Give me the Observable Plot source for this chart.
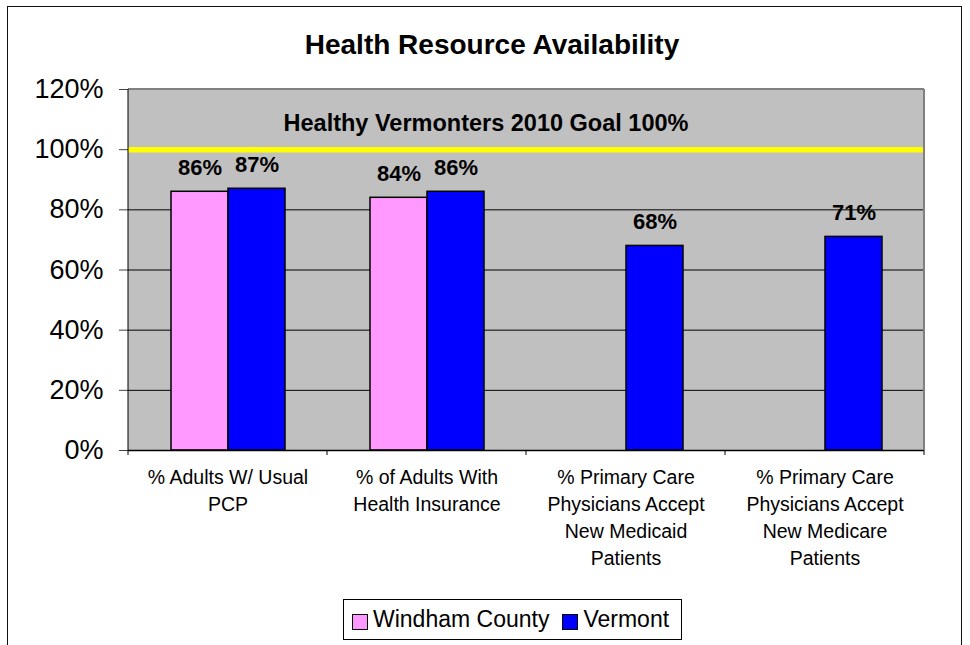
<!DOCTYPE html>
<html>
<head>
<meta charset="utf-8">
<script src="https://cdn.jsdelivr.net/npm/d3@7"></script>
<script src="https://cdn.jsdelivr.net/npm/@observablehq/plot@0.6"></script>
<style>
  body { margin: 0; background: #fff; font-family: "Liberation Sans", Arial, sans-serif; }
  #wrap { position: relative; width: 970px; height: 645px; overflow: hidden; background: #fff; }
  #wrap svg { position: absolute; left: 0; top: 0; }
  .frame { position: absolute; left: 7px; top: 6px; width: 953px; height: 700px; border: 1.5px solid #111; pointer-events: none; }
  .title { position: absolute; left: 492px; top: 31px; transform: translateX(-50%); white-space: nowrap;
           font-size: 28px; line-height: 28px; font-weight: bold; color: #000; }
  .goal { position: absolute; left: 486px; top: 112px; transform: translateX(-50%); white-space: nowrap;
          font-size: 23.5px; line-height: 23.5px; font-weight: bold; color: #000; }
  .legend { position: absolute; left: 343px; top: 599px; width: 337px; height: 39px; border: 1px solid #000;
            display: flex; align-items: center; box-sizing: content-box; font-size: 23px; color: #000; background: #fff; }
  .legend .item { display: flex; align-items: center; }
  .legend .sw { width: 14px; height: 14px; border: 1px solid #000; margin-right: 5px; margin-top: 4px; }
</style>
</head>
<body>
<div id="wrap"></div>
<script>
// ---- data ----
const categories = [
  "% Adults W/ Usual PCP",
  "% of Adults With Health Insurance",
  "% Primary Care Physicians Accept New Medicaid Patients",
  "% Primary Care Physicians Accept New Medicare Patients"
];
const tickLabels = [
  "% Adults W/ Usual\nPCP",
  "% of Adults With\nHealth Insurance",
  "% Primary Care\nPhysicians Accept\nNew Medicaid\nPatients",
  "% Primary Care\nPhysicians Accept\nNew Medicare\nPatients"
];
const series = ["Windham County", "Vermont"];
const windham = [86, 84, null, null];
const vermont = [87, 86, 68, 71];
const goalValue = [100];
const goalLabel = "Healthy Vermonters 2010 Goal 100%";
const yTicks = [0, 20, 40, 60, 80, 100, 120];
const gridTicks = [20, 40, 60, 80, 100];
const title = "Health Resource Availability";

const colors = ["#FF99FF", "#0000FF"];

// table built from the arrays
const rows = [];
categories.forEach((c, i) => {
  [windham, vermont].forEach((arr, s) => {
    if (arr[i] != null) rows.push({category: c, series: series[s], value: arr[i]});
  });
});
const labelOf = new Map(categories.map((c, i) => [c, tickLabels[i]]));

const plot = Plot.plot({
  width: 970,
  height: 645,
  marginLeft: 128,
  marginRight: 46,
  marginTop: 89,
  marginBottom: 195,
  style: {fontFamily: "'Liberation Sans', Arial, sans-serif", color: "#000", background: "transparent", overflow: "visible"},
  fx: {domain: categories, padding: 0, round: false},
  x: {domain: series, paddingInner: 0, paddingOuter: 0.74, axis: null},
  y: {domain: [0, 120]},
  color: {domain: series, range: colors},
  marks: [
    Plot.ruleY(gridTicks, {stroke: "#000", strokeWidth: 1}),
    Plot.ruleY(goalValue, {stroke: "#FFFF00", strokeWidth: 5.5}),
    Plot.barY(rows, {fx: "category", x: "series", y: "value", fill: "series", stroke: "#000", strokeWidth: 1.5}),
    Plot.ruleY([0], {stroke: "#000", strokeWidth: 1.5}),
    Plot.text(rows, {fx: "category", x: "series", y: "value", text: d => d.value + "%",
      lineAnchor: "bottom", dy: -17, fontSize: 22, fontWeight: "bold", fill: "#000"}),
    Plot.axisY({ticks: yTicks, tickFormat: d => d + "%", tickSize: 9, tickPadding: 16, fontSize: 27, label: null, stroke: "#444"}),
    Plot.axisFx({anchor: "bottom", tickSize: 0, tickPadding: 15, fontSize: 19.5, lineHeight: 1.37,
      tickFormat: d => labelOf.get(d), label: null})
  ]
});

const wrap = document.getElementById("wrap");
wrap.appendChild(plot);

// plot-area background, axis lines, border and category boundary ticks, from Plot's own scales
const fx = plot.scale("fx"), y = plot.scale("y");
const svg = d3.select(plot);
const x0 = fx.range[0], x1 = fx.range[1];
const yTop = y.apply(120), yBot = y.apply(0);
svg.insert("rect", ":first-child")
  .attr("x", x0).attr("y", yTop).attr("width", x1 - x0).attr("height", yBot - yTop)
  .attr("fill", "#C0C0C0");
const g = svg.append("g");
g.append("line").attr("x1", x0).attr("x2", x1).attr("y1", yTop).attr("y2", yTop)
  .attr("stroke", "#808080").attr("stroke-width", 2);
g.append("line").attr("x1", x1).attr("x2", x1).attr("y1", yTop).attr("y2", yBot)
  .attr("stroke", "#808080").attr("stroke-width", 2);
g.append("line").attr("x1", x0).attr("x2", x0).attr("y1", yTop).attr("y2", yBot)
  .attr("stroke", "#000").attr("stroke-width", 1);
const bounds = categories.map(c => fx.apply(c)).concat([x1]);
g.selectAll("line.tk").data(bounds).join("line").attr("class", "tk")
  .attr("x1", d => d).attr("x2", d => d).attr("y1", yBot).attr("y2", yBot + 5)
  .attr("stroke", "#000").attr("stroke-width", 1);

// text & legend
const t = document.createElement("div"); t.className = "title"; t.textContent = title; wrap.appendChild(t);
const gl = document.createElement("div"); gl.className = "goal"; gl.textContent = goalLabel; wrap.appendChild(gl);
const leg = document.createElement("div"); leg.className = "legend";
series.forEach((s, i) => {
  const it = document.createElement("div"); it.className = "item";
  it.style.marginLeft = i === 0 ? "8px" : "13px";
  const sw = document.createElement("div"); sw.className = "sw"; sw.style.background = colors[i];
  const lb = document.createElement("span"); lb.textContent = s;
  it.appendChild(sw); it.appendChild(lb); leg.appendChild(it);
});
wrap.appendChild(leg);
const fr = document.createElement("div"); fr.className = "frame"; wrap.appendChild(fr);
</script>
</body>
</html>
